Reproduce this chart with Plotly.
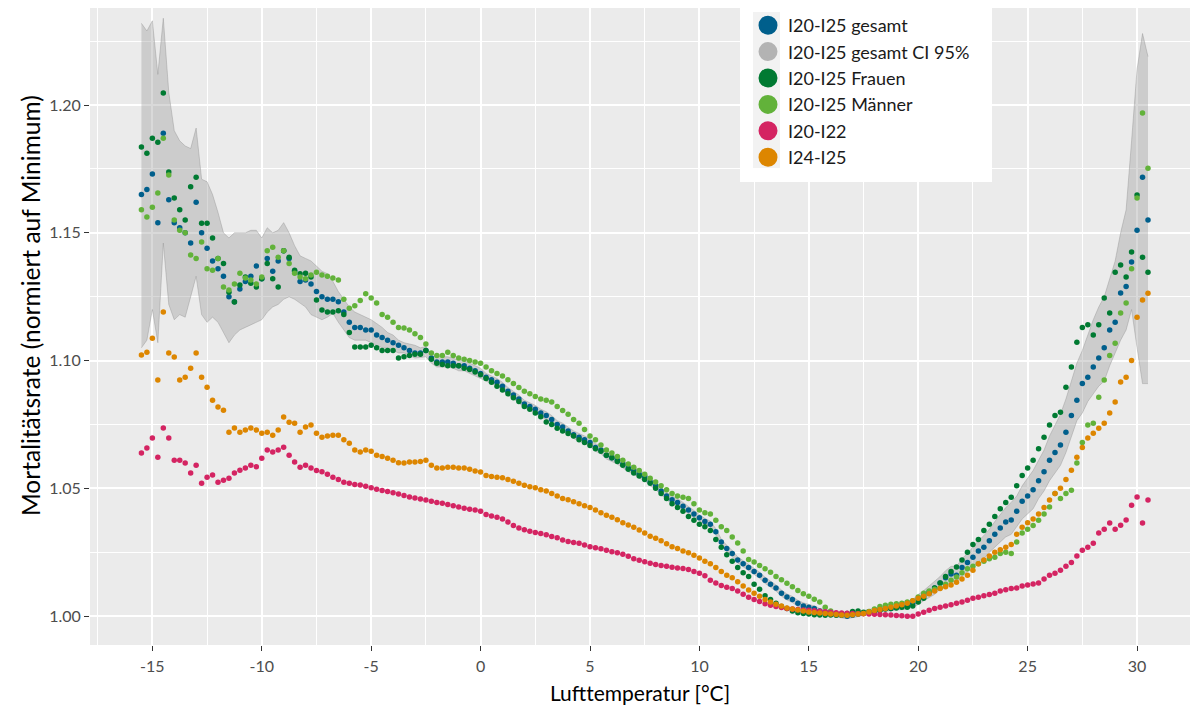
import numpy as np
import plotly.graph_objects as go

# Temperature bins (°C), 0.25 °C apart, from -15.5 to 30.5
T_START, T_STEP, N_BINS = -15.5, 0.25, 185
temperatur = np.round(T_START + T_STEP * np.arange(N_BINS), 2)

# Relative mortality (normalised to minimum)
gesamt = [
    1.165, 1.167,
    1.173, 1.154, 1.189, 1.163, 1.154, 1.152, 1.150, 1.146,
    1.162, 1.150, 1.144, 1.139, 1.136, 1.133, 1.125, 1.123,
    1.128, 1.131, 1.133, 1.137, 1.132, 1.140, 1.135, 1.139,
    1.143, 1.140, 1.135, 1.131, 1.1315, 1.130, 1.127, 1.125,
    1.124, 1.124, 1.123, 1.119, 1.115, 1.113, 1.113, 1.112,
    1.112, 1.110, 1.109, 1.108, 1.107, 1.106, 1.105, 1.104,
    1.103, 1.103, 1.104, 1.101, 1.0995, 1.0995, 1.0995, 1.099,
    1.098, 1.098, 1.097, 1.096, 1.095, 1.0935, 1.0925, 1.0915,
    1.090, 1.088, 1.0865, 1.085, 1.083, 1.082, 1.081, 1.0795,
    1.0785, 1.077, 1.075, 1.074, 1.0725, 1.071, 1.070, 1.069,
    1.068, 1.066, 1.065, 1.063, 1.062, 1.061, 1.0595, 1.058,
    1.057, 1.0555, 1.0545, 1.0525, 1.051, 1.049, 1.047, 1.0455,
    1.0445, 1.043, 1.0415, 1.040, 1.0385, 1.037, 1.036, 1.033,
    1.029, 1.0265, 1.0245, 1.022, 1.0205, 1.019, 1.0175, 1.016,
    1.014, 1.0125, 1.011, 1.009, 1.0075, 1.0065, 1.005, 1.004,
    1.0035, 1.003, 1.002, 1.0015, 1.001, 1.0005, 1.0003, 1.000,
    1.0003, 1.0008, 1.0012, 1.0016, 1.002, 1.0025, 1.003, 1.003,
    1.0035, 1.004, 1.0043, 1.005, 1.0065, 1.008, 1.0095, 1.011,
    1.013, 1.015, 1.0165, 1.016, 1.019, 1.021, 1.023, 1.0255,
    1.027, 1.0295, 1.032, 1.0345, 1.0368, 1.0376, 1.041, 1.045,
    1.047, 1.0495, 1.053, 1.0565, 1.061, 1.064, 1.067, 1.072,
    1.0785, 1.0845, 1.091, 1.0935, 1.0975, 1.101, 1.105, 1.112,
    1.115, 1.1265, 1.129, 1.1386, 1.151, 1.1718, 1.155,
]

ci_hi = [
    1.232, 1.229,
    1.233, 1.212, 1.234, 1.205, 1.190, 1.186, 1.184, 1.183,
    1.191, 1.171, 1.170, 1.165, 1.158, 1.150, 1.148, 1.150,
    1.150, 1.150, 1.151, 1.151, 1.148, 1.152, 1.150, 1.151,
    1.154, 1.150, 1.145, 1.141, 1.140, 1.139, 1.137, 1.135,
    1.134, 1.131, 1.127, 1.124, 1.121, 1.119, 1.118, 1.117,
    1.116, 1.1145, 1.113, 1.111, 1.110, 1.108, 1.107, 1.1065,
    1.106, 1.105, 1.1055, 1.102, 1.1015, 1.1015, 1.1015, 1.101,
    1.100, 1.100, 1.099, 1.098, 1.097, 1.095, 1.094, 1.093,
    1.0915, 1.0895, 1.088, 1.0865, 1.0845, 1.0835, 1.0825, 1.081,
    1.080, 1.0785, 1.0765, 1.0755, 1.074, 1.0725, 1.0715, 1.0705,
    1.0695, 1.0675, 1.0665, 1.0645, 1.0635, 1.0625, 1.061, 1.0595,
    1.0585, 1.057, 1.056, 1.054, 1.0525, 1.0505, 1.0485, 1.047,
    1.046, 1.0445, 1.043, 1.0415, 1.040, 1.0382, 1.0372, 1.0342,
    1.0302, 1.0277, 1.0257, 1.0232, 1.0217, 1.0202, 1.0187, 1.0172,
    1.0152, 1.0137, 1.0122, 1.0102, 1.0087, 1.0077, 1.0062, 1.0052,
    1.0047, 1.004, 1.003, 1.0025, 1.002, 1.0015, 1.0013, 1.001,
    1.0013, 1.0018, 1.0022, 1.0026, 1.003, 1.0035, 1.004, 1.004,
    1.0045, 1.0055, 1.0058, 1.0065, 1.0085, 1.010, 1.0118, 1.0135,
    1.0155, 1.0178, 1.0195, 1.0195, 1.0225, 1.0245, 1.027, 1.0295,
    1.0315, 1.034, 1.037, 1.040, 1.0425, 1.0445, 1.047, 1.051,
    1.054, 1.057, 1.061, 1.065, 1.0705, 1.075, 1.079, 1.085,
    1.092, 1.099, 1.104, 1.110, 1.116, 1.121, 1.125, 1.132,
    1.139, 1.150, 1.159, 1.186, 1.214, 1.228, 1.219,
]

ci_lo = [
    1.105, 1.108,
    1.120, 1.107, 1.146, 1.122, 1.116, 1.118, 1.117, 1.125,
    1.133, 1.118, 1.115, 1.117, 1.115, 1.111, 1.107, 1.110,
    1.112, 1.113, 1.114, 1.115, 1.116, 1.119, 1.121, 1.122,
    1.124, 1.125, 1.124, 1.1225, 1.121, 1.118, 1.117, 1.116,
    1.117, 1.1185, 1.115, 1.112, 1.109, 1.108, 1.108, 1.108,
    1.107, 1.106, 1.105, 1.105, 1.104, 1.103, 1.103, 1.102,
    1.101, 1.1012, 1.1015, 1.099, 1.0975, 1.0975, 1.0975, 1.097,
    1.096, 1.096, 1.095, 1.094, 1.093, 1.092, 1.091, 1.090,
    1.0885, 1.0865, 1.085, 1.0835, 1.0815, 1.0805, 1.0795, 1.078,
    1.077, 1.0755, 1.0735, 1.0725, 1.071, 1.0695, 1.0685, 1.0675,
    1.0665, 1.0645, 1.0635, 1.0615, 1.0605, 1.0595, 1.058, 1.0565,
    1.0555, 1.054, 1.053, 1.051, 1.0495, 1.0475, 1.0455, 1.044,
    1.043, 1.0415, 1.040, 1.0385, 1.037, 1.0358, 1.0348, 1.0318,
    1.0278, 1.0253, 1.0233, 1.0208, 1.0193, 1.0178, 1.0163, 1.0148,
    1.0128, 1.0113, 1.0098, 1.0078, 1.0063, 1.0053, 1.0038, 1.0028,
    1.0023, 1.002, 1.001, 1.0005, 1.000, 0.9995, 0.9993, 0.999,
    0.9993, 0.9998, 1.0002, 1.0006, 1.001, 1.0015, 1.002, 1.002,
    1.0025, 1.0025, 1.0028, 1.0035, 1.0045, 1.006, 1.0072, 1.0085,
    1.0105, 1.0122, 1.0135, 1.0135, 1.0155, 1.0175, 1.019, 1.0215,
    1.0225, 1.025, 1.027, 1.029, 1.031, 1.032, 1.035, 1.038,
    1.040, 1.042, 1.046, 1.049, 1.053, 1.056, 1.059, 1.064,
    1.070, 1.0765, 1.0795, 1.084, 1.087, 1.090, 1.092, 1.098,
    1.103, 1.108, 1.112, 1.120, 1.105, 1.091, 1.091,
]

frauen = [
    1.1836, 1.1812,
    1.187, 1.1855, 1.2047, 1.1738, 1.1636, 1.159, 1.155, 1.168,
    1.1718, 1.1538, 1.1538, 1.148, 1.140, 1.138, 1.1268, 1.1229,
    1.1296, 1.1327, 1.1303, 1.1288, 1.132, 1.138, 1.132, 1.1288,
    1.143, 1.1405, 1.1354, 1.134, 1.1342, 1.1327, 1.1237, 1.1198,
    1.119, 1.119, 1.1195, 1.118, 1.111, 1.1053, 1.1053, 1.1053,
    1.106, 1.105, 1.104, 1.104, 1.104, 1.101, 1.1015, 1.102,
    1.1025, 1.1025, 1.104, 1.1005, 1.099, 1.0985, 1.098, 1.098,
    1.098, 1.097, 1.0965, 1.0955, 1.0945, 1.093, 1.0915, 1.090,
    1.0885, 1.087, 1.0855, 1.084, 1.082, 1.081, 1.0795, 1.078,
    1.076, 1.075, 1.0735, 1.0725, 1.0715, 1.0705, 1.069, 1.068,
    1.0668, 1.0655, 1.0645, 1.063, 1.062, 1.0605, 1.059, 1.0575,
    1.056, 1.0548, 1.0535, 1.052, 1.050, 1.048, 1.046, 1.044,
    1.0425, 1.041, 1.039, 1.0375, 1.036, 1.035, 1.0335, 1.030,
    1.027, 1.024, 1.0215, 1.019, 1.017, 1.0155, 1.0125, 1.0105,
    1.008, 1.0065, 1.005, 1.0038, 1.003, 1.002, 1.0013, 1.001,
    1.0008, 1.0005, 1.0004, 1.0003, 1.0004, 1.0003, 1.0004, 1.001,
    1.0018, 1.002, 1.0015, 1.0016, 1.0018, 1.0022, 1.0028, 1.003,
    1.0032, 1.0035, 1.0035, 1.004, 1.0055, 1.007, 1.009, 1.011,
    1.013, 1.0155, 1.0175, 1.0192, 1.022, 1.025, 1.028, 1.030,
    1.0335, 1.036, 1.039, 1.042, 1.0445, 1.0465, 1.051, 1.055,
    1.058, 1.061, 1.0655, 1.070, 1.0748, 1.0785, 1.0798, 1.0896,
    1.0975, 1.1072, 1.113, 1.114, 1.110, 1.114, 1.1245, 1.1186,
    1.1346, 1.1374, 1.1327, 1.1425, 1.1648, 1.1405, 1.1346,
]

maenner = [
    1.159, 1.1562,
    1.160, 1.1656, 1.187, 1.1726, 1.155, 1.151, 1.150, 1.1413,
    1.140, 1.1464, 1.136, 1.1354, 1.140, 1.1288, 1.1276, 1.130,
    1.1342, 1.1323, 1.1315, 1.130, 1.1327, 1.143, 1.1444, 1.1405,
    1.143, 1.138, 1.1342, 1.1327, 1.132, 1.1335, 1.1346, 1.1335,
    1.133, 1.1323, 1.1315, 1.124, 1.1205, 1.1215, 1.1235, 1.1262,
    1.1245, 1.1225, 1.118, 1.117, 1.115, 1.113, 1.1128, 1.112,
    1.1105, 1.109, 1.1065, 1.103, 1.102, 1.102, 1.1033, 1.102,
    1.101, 1.1005, 1.100, 1.0995, 1.099, 1.0975, 1.096, 1.095,
    1.094, 1.0925, 1.091, 1.0895, 1.088, 1.087, 1.086, 1.085,
    1.0845, 1.0838, 1.082, 1.0805, 1.079, 1.077, 1.0755, 1.073,
    1.0705, 1.069, 1.067, 1.065, 1.0638, 1.0625, 1.061, 1.0595,
    1.0583, 1.057, 1.0555, 1.054, 1.0525, 1.051, 1.0495, 1.048,
    1.047, 1.0465, 1.046, 1.044, 1.0415, 1.0405, 1.040, 1.0375,
    1.035, 1.0335, 1.031, 1.0286, 1.0255, 1.0222, 1.0212, 1.0198,
    1.0185, 1.0172, 1.0155, 1.0142, 1.0129, 1.0115, 1.010, 1.0088,
    1.0078, 1.0066, 1.0055, 1.0035, 1.002, 1.001, 1.0005, 1.0004,
    1.0006, 1.0008, 1.001, 1.0018, 1.0028, 1.0038, 1.0043, 1.0046,
    1.0048, 1.005, 1.0055, 1.006, 1.0075, 1.009, 1.0098, 1.0105,
    1.011, 1.0125, 1.014, 1.0153, 1.017, 1.0185, 1.0195, 1.0205,
    1.0215, 1.0225, 1.023, 1.0245, 1.025, 1.0245, 1.029, 1.0325,
    1.034, 1.0355, 1.0375, 1.040, 1.0427, 1.048, 1.046, 1.048,
    1.0493, 1.0599, 1.068, 1.0748, 1.0755, 1.0857, 1.0924, 1.102,
    1.1068, 1.1186, 1.1225, 1.136, 1.1636, 1.1969, 1.1753,
]

i20_i22 = [
    1.0638, 1.0658,
    1.0697, 1.0622, 1.0736, 1.0697, 1.061, 1.061, 1.0599, 1.056,
    1.059, 1.052, 1.0544, 1.0552, 1.0524, 1.0532, 1.054, 1.056,
    1.0571, 1.058, 1.059, 1.0585, 1.0618, 1.065, 1.0642, 1.065,
    1.0661, 1.063, 1.0603, 1.0583, 1.059, 1.058, 1.057, 1.0565,
    1.0555, 1.0544, 1.0535, 1.0524, 1.052, 1.0515, 1.0513, 1.0508,
    1.0502, 1.0497, 1.0492, 1.0488, 1.0483, 1.0478, 1.0472, 1.0466,
    1.0462, 1.0458, 1.0454, 1.045, 1.0445, 1.0442, 1.0437, 1.0432,
    1.0427, 1.0422, 1.0418, 1.0415, 1.041, 1.0398, 1.0392, 1.0387,
    1.038, 1.0368, 1.0355, 1.0345, 1.0338, 1.0332, 1.0327, 1.0323,
    1.0318, 1.0312, 1.0307, 1.0298, 1.0292, 1.0288, 1.0285, 1.0278,
    1.0272, 1.0268, 1.0264, 1.0258, 1.0252, 1.0248, 1.0242, 1.0234,
    1.0225, 1.0219, 1.0213, 1.0207, 1.0202, 1.0198, 1.0195, 1.0191,
    1.0188, 1.0186, 1.0182, 1.0175, 1.0168, 1.0158, 1.014, 1.013,
    1.012, 1.0113, 1.0108, 1.0098, 1.0086, 1.0074, 1.0065, 1.0057,
    1.0048, 1.0043, 1.0038, 1.0034, 1.003, 1.0028, 1.0026, 1.0024,
    1.0023, 1.0021, 1.0019, 1.0017, 1.0015, 1.0013, 1.0012, 1.0011,
    1.001, 1.0009, 1.0009, 1.0008, 1.0007, 1.0006, 1.0005, 1.0004,
    1.0002, 1.0001, 1.000, 1.000, 1.0008, 1.0015, 1.0023, 1.003,
    1.0035, 1.004, 1.0045, 1.005, 1.0055, 1.0062, 1.007, 1.0074,
    1.008, 1.0085, 1.009, 1.0098, 1.0103, 1.0108, 1.011, 1.0118,
    1.0122, 1.0126, 1.013, 1.0145, 1.016, 1.0168, 1.018, 1.0195,
    1.021, 1.0235, 1.0258, 1.027, 1.0285, 1.0325, 1.034, 1.0364,
    1.034, 1.0356, 1.0376, 1.0434, 1.0466, 1.0364, 1.0454,
]

i24_i25 = [
    1.1022, 1.1033,
    1.1088, 1.0924, 1.119, 1.103, 1.1014, 1.0924, 1.0935, 1.097,
    1.103, 1.0935, 1.0896, 1.0845, 1.0818, 1.0806, 1.072, 1.0736,
    1.072, 1.0728, 1.0736, 1.0728, 1.0716, 1.072, 1.0708, 1.0728,
    1.0779, 1.0759, 1.0755, 1.072, 1.074, 1.0748, 1.0716, 1.070,
    1.0705, 1.0708, 1.0708, 1.069, 1.0677, 1.065, 1.0642, 1.065,
    1.0645, 1.063, 1.0625, 1.0618, 1.061, 1.060, 1.0599, 1.0603,
    1.0603, 1.0605, 1.061, 1.059, 1.058, 1.058, 1.0583, 1.0583,
    1.058, 1.058, 1.0575, 1.0568, 1.0564, 1.055, 1.0546, 1.0544,
    1.0542, 1.0535, 1.0528, 1.052, 1.0512, 1.0506, 1.0502, 1.0495,
    1.049, 1.048, 1.047, 1.046, 1.0455, 1.0448, 1.044, 1.0432,
    1.0425, 1.0415, 1.0405, 1.0395, 1.0387, 1.0377, 1.0365, 1.0357,
    1.0348, 1.0337, 1.0325, 1.0313, 1.0305, 1.0295, 1.0283, 1.0272,
    1.0265, 1.0255, 1.0248, 1.0238, 1.0227, 1.0215, 1.0205, 1.019,
    1.0175, 1.016, 1.015, 1.0135, 1.0118, 1.0102, 1.009, 1.0078,
    1.0065, 1.0055, 1.0046, 1.004, 1.0032, 1.0028, 1.0024, 1.002,
    1.0016, 1.0014, 1.0012, 1.001, 1.0008, 1.0006, 1.0004, 1.0003,
    1.0005, 1.0008, 1.001, 1.0016, 1.0022, 1.0026, 1.003, 1.0035,
    1.004, 1.0045, 1.005, 1.006, 1.007, 1.0078, 1.0088, 1.0098,
    1.0108, 1.0115, 1.0122, 1.0133, 1.0145, 1.016, 1.018, 1.0205,
    1.022, 1.0235, 1.025, 1.026, 1.027, 1.028, 1.032, 1.0348,
    1.0365, 1.038, 1.040, 1.0425, 1.0454, 1.048, 1.050, 1.0535,
    1.0571, 1.0622, 1.066, 1.0697, 1.0716, 1.0735, 1.0755, 1.0795,
    1.0838, 1.0916, 1.0935, 1.100, 1.117, 1.1237, 1.1264,
]

for arr in (gesamt, ci_hi, ci_lo, frauen, maenner, i20_i22, i24_i25):
    assert len(arr) == N_BINS, len(arr)

x_ticks = [-15, -10, -5, 0, 5, 10, 15, 20, 25, 30]
x_ticklabels = ["-15", "-10", "-5", "0", "5", "10", "15", "20", "25", "30"]
y_ticks = [1.00, 1.05, 1.10, 1.15, 1.20]
y_ticklabels = ["1.00", "1.05", "1.10", "1.15", "1.20"]

names = ["I20-I25 gesamt", "I20-I25 gesamt CI 95%", "I20-I25 Frauen",
         "I20-I25 Männer", "I20-I22", "I24-I25"]
colors = ["#005F8C", "#B3B3B3", "#007A32", "#62B23A", "#D42462", "#DD8600"]

FONT = "Lato, 'Open Sans', sans-serif"

fig = go.Figure()

# confidence ribbon
fig.add_trace(go.Scatter(x=temperatur, y=ci_lo, mode="lines",
                         line=dict(color="rgba(140,140,140,0.55)", width=0.7),
                         showlegend=False, hoverinfo="skip"))
fig.add_trace(go.Scatter(x=temperatur, y=ci_hi, mode="lines", fill="tonexty",
                         fillcolor="rgba(150,150,150,0.36)",
                         line=dict(color="rgba(140,140,140,0.55)", width=0.7),
                         showlegend=False, hoverinfo="skip"))

series = [(gesamt, colors[0]), (frauen, colors[2]), (maenner, colors[3]),
          (i20_i22, colors[4]), (i24_i25, colors[5])]
for vals, col in series:
    fig.add_trace(go.Scatter(x=temperatur, y=vals, mode="markers",
                             marker=dict(size=5.5, color=col),
                             showlegend=False))

# legend entries
for nm, col in zip(names, colors):
    fig.add_trace(go.Scatter(x=[None], y=[None], mode="markers", name=nm,
                             marker=dict(size=16, color=col,
                                         line=dict(color=col, width=3))))

# plot geometry (pixels)
W, H = 1194, 706
ML, MR, MT, MB = 90, 4, 8, 61
pw, ph = W - ML - MR, H - MT - MB

def px_x(p):
    return (p - ML) / pw

def px_y(p):
    return 1 - (p - MT) / ph

shapes = [
    dict(type="rect", xref="paper", yref="paper", layer="above",
         x0=px_x(740), x1=px_x(992), y0=px_y(182), y1=px_y(4),
         fillcolor="white", line=dict(width=0)),
    dict(type="rect", xref="paper", yref="paper", layer="above",
         x0=px_x(753), x1=px_x(780), y0=px_y(168), y1=px_y(12),
         fillcolor="#F2F2F2", line=dict(width=0)),
]

annotations = [
    dict(text="Mortalitätsrate (normiert auf Minimum)", xref="paper",
         yref="paper", x=px_x(30), y=px_y(306), xanchor="center",
         yanchor="middle", textangle=-90, showarrow=False,
         font=dict(family=FONT, size=24.5, color="#000000")),
]

fig.update_layout(
    width=W, height=H,
    margin=dict(l=ML, r=MR, t=MT, b=MB, pad=0),
    paper_bgcolor="white",
    plot_bgcolor="#EBEBEB",
    font=dict(family=FONT, color="#1A1A1A"),
    shapes=shapes,
    annotations=annotations,
    legend=dict(x=px_x(748), y=px_y(7), xanchor="left", yanchor="top",
                traceorder="normal",
                bgcolor="rgba(0,0,0,0)", borderwidth=0,
                font=dict(family=FONT, size=18, color="#1A1A1A"),
                itemclick=False),
    xaxis=dict(range=[-17.85, 32.42], tickmode="array", tickvals=x_ticks,
               ticktext=x_ticklabels, ticks="outside", ticklen=5, tickwidth=1.1,
               tickcolor="#333333", showgrid=True, gridcolor="white",
               gridwidth=1.5, zeroline=False, showline=False, automargin=False,
               ticklabelstandoff=2,
               tickfont=dict(family=FONT, size=16, color="#4D4D4D"),
               title=dict(text="Lufttemperatur [°C]", standoff=12,
                          font=dict(family=FONT, size=21, color="#000000")),
               minor=dict(tickmode="array",
                          tickvals=[-17.5, -12.5, -7.5, -2.5, 2.5, 7.5, 12.5,
                                    17.5, 22.5, 27.5],
                          showgrid=True, gridcolor="white", gridwidth=0.7,
                          ticks="")),
    yaxis=dict(range=[0.9887, 1.2380], tickmode="array", tickvals=y_ticks,
               ticktext=y_ticklabels, ticks="outside", ticklen=5, tickwidth=1.1,
               tickcolor="#333333", showgrid=True, gridcolor="white",
               gridwidth=1.5, zeroline=False, showline=False, automargin=False,
               tickfont=dict(family=FONT, size=16, color="#4D4D4D"),
               minor=dict(tickmode="array",
                          tickvals=[1.025, 1.075, 1.125, 1.175, 1.225],
                          showgrid=True, gridcolor="white", gridwidth=0.7,
                          ticks="")),
)

fig.write_html("out.html",
               config={"displayModeBar": False},
               post_script="document.body.style.margin='0px';"
                           "document.body.style.overflow='hidden';")
